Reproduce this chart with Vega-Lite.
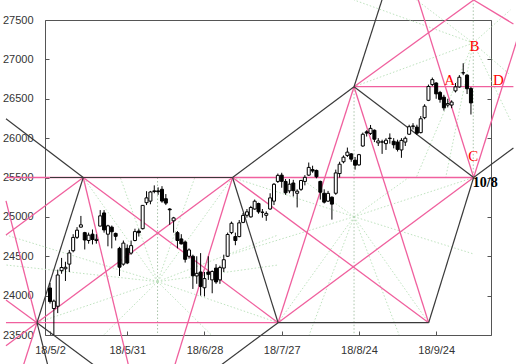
{
  "$schema": "https://vega.github.io/schema/vega-lite/v6.json",
  "width": 446,
  "height": 315,
  "autosize": {"type": "none"},
  "padding": {"left": 45, "top": 20, "right": 25, "bottom": 29},
  "background": "white",
  "config": {
    "view": {"stroke": "#555555", "strokeWidth": 1},
    "axis": {"labelFont": "Liberation Sans", "labelFontSize": 11, "labelColor": "#333333", "tickColor": "#555555", "domain": false, "grid": false, "title": null, "labelOverlap": false, "labelFlush": false}
  },
  "datasets": {
    "candles": [
      {"i":0,"o":24097,"h":24160,"l":23900,"c":23925},
      {"i":1,"o":23836,"h":23950,"l":23344,"c":23930},
      {"i":2,"o":23865,"h":24330,"l":23778,"c":24262},
      {"i":3,"o":24317,"h":24479,"l":24278,"c":24357},
      {"i":4,"o":24341,"h":24430,"l":24186,"c":24360},
      {"i":5,"o":24400,"h":24580,"l":24300,"c":24542},
      {"i":6,"o":24570,"h":24780,"l":24550,"c":24739},
      {"i":7,"o":24740,"h":24870,"l":24720,"c":24831},
      {"i":8,"o":24870,"h":25012,"l":24864,"c":24899},
      {"i":9,"o":24800,"h":24810,"l":24586,"c":24706},
      {"i":10,"o":24700,"h":24800,"l":24660,"c":24768},
      {"i":11,"o":24780,"h":24840,"l":24650,"c":24713},
      {"i":12,"o":24700,"h":24780,"l":24660,"c":24715},
      {"i":13,"o":24883,"h":25086,"l":24880,"c":25013},
      {"i":14,"o":25050,"h":25086,"l":24800,"c":24834},
      {"i":15,"o":24780,"h":24900,"l":24626,"c":24886},
      {"i":16,"o":24870,"h":24890,"l":24600,"c":24811},
      {"i":17,"o":24790,"h":24800,"l":24700,"c":24753},
      {"i":18,"o":24600,"h":24620,"l":24250,"c":24361},
      {"i":19,"o":24400,"h":24700,"l":24380,"c":24667},
      {"i":20,"o":24600,"h":24650,"l":24400,"c":24415},
      {"i":21,"o":24540,"h":24700,"l":24520,"c":24635},
      {"i":22,"o":24700,"h":24850,"l":24690,"c":24813},
      {"i":23,"o":24820,"h":24850,"l":24750,"c":24799},
      {"i":24,"o":24850,"h":25150,"l":24840,"c":25146},
      {"i":25,"o":25180,"h":25326,"l":25150,"c":25241},
      {"i":26,"o":25200,"h":25330,"l":25160,"c":25316},
      {"i":27,"o":25330,"h":25400,"l":25300,"c":25322},
      {"i":28,"o":25330,"h":25375,"l":25280,"c":25320},
      {"i":29,"o":25350,"h":25390,"l":25180,"c":25201},
      {"i":30,"o":25230,"h":25290,"l":25150,"c":25175},
      {"i":31,"o":25100,"h":25110,"l":24900,"c":25090},
      {"i":32,"o":24950,"h":25000,"l":24800,"c":24987},
      {"i":33,"o":24800,"h":24820,"l":24600,"c":24700},
      {"i":34,"o":24720,"h":24780,"l":24650,"c":24657},
      {"i":35,"o":24680,"h":24700,"l":24420,"c":24461},
      {"i":36,"o":24500,"h":24600,"l":24470,"c":24580},
      {"i":37,"o":24500,"h":24520,"l":24085,"c":24252},
      {"i":38,"o":24250,"h":24500,"l":24150,"c":24283},
      {"i":39,"o":24300,"h":24540,"l":24000,"c":24117},
      {"i":40,"o":24100,"h":24300,"l":23990,"c":24216},
      {"i":41,"o":24300,"h":24500,"l":24200,"c":24271},
      {"i":42,"o":24200,"h":24320,"l":24030,"c":24307},
      {"i":43,"o":24350,"h":24400,"l":24150,"c":24174},
      {"i":44,"o":24200,"h":24380,"l":24150,"c":24356},
      {"i":45,"o":24350,"h":24520,"l":24300,"c":24456},
      {"i":46,"o":24500,"h":24800,"l":24490,"c":24776},
      {"i":47,"o":24800,"h":24940,"l":24780,"c":24919},
      {"i":48,"o":24750,"h":24800,"l":24640,"c":24700},
      {"i":49,"o":24750,"h":24960,"l":24740,"c":24924},
      {"i":50,"o":24930,"h":25050,"l":24920,"c":25019},
      {"i":51,"o":25020,"h":25100,"l":24990,"c":25064},
      {"i":52,"o":25000,"h":25140,"l":24990,"c":25119},
      {"i":53,"o":25100,"h":25220,"l":25090,"c":25199},
      {"i":54,"o":25170,"h":25180,"l":25040,"c":25064},
      {"i":55,"o":25060,"h":25100,"l":24990,"c":25058},
      {"i":56,"o":25020,"h":25070,"l":24950,"c":25044},
      {"i":57,"o":25100,"h":25300,"l":25090,"c":25241},
      {"i":58,"o":25200,"h":25430,"l":25150,"c":25414},
      {"i":59,"o":25450,"h":25550,"l":25430,"c":25527},
      {"i":60,"o":25530,"h":25560,"l":25370,"c":25451},
      {"i":61,"o":25450,"h":25480,"l":25280,"c":25306},
      {"i":62,"o":25330,"h":25480,"l":25300,"c":25415},
      {"i":63,"o":25430,"h":25470,"l":25260,"c":25333},
      {"i":64,"o":25300,"h":25350,"l":25120,"c":25326},
      {"i":65,"o":25350,"h":25470,"l":25330,"c":25462},
      {"i":66,"o":25450,"h":25530,"l":25400,"c":25502},
      {"i":67,"o":25530,"h":25690,"l":25520,"c":25628},
      {"i":68,"o":25600,"h":25650,"l":25560,"c":25583},
      {"i":69,"o":25590,"h":25600,"l":25490,"c":25509},
      {"i":70,"o":25450,"h":25460,"l":25220,"c":25313},
      {"i":71,"o":25300,"h":25350,"l":25170,"c":25187},
      {"i":72,"o":25200,"h":25330,"l":25190,"c":25299},
      {"i":73,"o":25250,"h":25260,"l":24965,"c":25162},
      {"i":74,"o":25300,"h":25600,"l":25280,"c":25558},
      {"i":75,"o":25550,"h":25700,"l":25500,"c":25669},
      {"i":76,"o":25700,"h":25780,"l":25680,"c":25758},
      {"i":77,"o":25780,"h":25880,"l":25760,"c":25822},
      {"i":78,"o":25800,"h":25810,"l":25700,"c":25733},
      {"i":79,"o":25720,"h":25760,"l":25600,"c":25656},
      {"i":80,"o":25660,"h":25800,"l":25650,"c":25790},
      {"i":81,"o":25900,"h":26070,"l":25890,"c":26049},
      {"i":82,"o":26080,"h":26100,"l":26020,"c":26064},
      {"i":83,"o":26060,"h":26167,"l":26040,"c":26124},
      {"i":84,"o":26100,"h":26110,"l":25950,"c":25986},
      {"i":85,"o":25940,"h":26000,"l":25900,"c":25964},
      {"i":86,"o":25950,"h":25980,"l":25800,"c":25952},
      {"i":87,"o":25930,"h":26000,"l":25850,"c":25974},
      {"i":88,"o":26000,"h":26060,"l":25930,"c":25995},
      {"i":89,"o":25960,"h":26000,"l":25870,"c":25916},
      {"i":90,"o":25950,"h":25980,"l":25830,"c":25857},
      {"i":91,"o":25850,"h":26000,"l":25750,"c":25971},
      {"i":92,"o":25950,"h":26020,"l":25900,"c":25998},
      {"i":93,"o":26050,"h":26170,"l":26040,"c":26145},
      {"i":94,"o":26150,"h":26190,"l":26110,"c":26154},
      {"i":95,"o":26140,"h":26170,"l":26040,"c":26062},
      {"i":96,"o":26070,"h":26280,"l":26060,"c":26246},
      {"i":97,"o":26260,"h":26430,"l":26240,"c":26405},
      {"i":98,"o":26480,"h":26680,"l":26470,"c":26656},
      {"i":99,"o":26680,"h":26769,"l":26660,"c":26743},
      {"i":100,"o":26700,"h":26710,"l":26500,"c":26562},
      {"i":101,"o":26580,"h":26600,"l":26450,"c":26492},
      {"i":102,"o":26520,"h":26550,"l":26350,"c":26385},
      {"i":103,"o":26420,"h":26500,"l":26390,"c":26439},
      {"i":104,"o":26420,"h":26480,"l":26380,"c":26458},
      {"i":105,"o":26600,"h":26700,"l":26580,"c":26651},
      {"i":106,"o":26650,"h":26800,"l":26640,"c":26773},
      {"i":107,"o":26830,"h":26951,"l":26800,"c":26828},
      {"i":108,"o":26800,"h":26810,"l":26560,"c":26627},
      {"i":109,"o":26630,"h":26650,"l":26300,"c":26447}
    ],
    "segs": [
      {"k":"g","x1":27.85,"y1":24177,"x2":8.61,"y2":25500},
      {"k":"g","x1":27.85,"y1":24177,"x2":47.27,"y2":25500},
      {"k":"g","x1":27.85,"y1":24177,"x2":-3.37,"y2":23656},
      {"k":"g","x1":27.85,"y1":24177,"x2":59.06,"y2":23656},
      {"k":"g","x1":27.85,"y1":24177,"x2":-11.4,"y2":24770},
      {"k":"g","x1":27.85,"y1":24177,"x2":59.06,"y2":24770},
      {"k":"g","x1":27.85,"y1":24177,"x2":-11.4,"y2":24389},
      {"k":"g","x1":27.85,"y1":24177,"x2":59.06,"y2":24389},
      {"k":"g","x1":27.85,"y1":24177,"x2":18.2,"y2":25500},
      {"k":"g","x1":27.85,"y1":24177,"x2":37.5,"y2":25500},
      {"k":"g","x1":27.85,"y1":24177,"x2":13.9,"y2":23500},
      {"k":"g","x1":27.85,"y1":24177,"x2":41.8,"y2":23500},
      {"k":"g","x1":78.73,"y1":25002,"x2":47.27,"y2":25500},
      {"k":"g","x1":78.73,"y1":25002,"x2":109.7,"y2":25500},
      {"k":"g","x1":78.73,"y1":25002,"x2":59.06,"y2":23656},
      {"k":"g","x1":78.73,"y1":25002,"x2":98.05,"y2":23656},
      {"k":"g","x1":78.73,"y1":25002,"x2":47.27,"y2":24529},
      {"k":"g","x1":78.73,"y1":25002,"x2":109.7,"y2":24529},
      {"k":"g","x1":78.73,"y1":25002,"x2":64.6,"y2":25500},
      {"k":"g","x1":78.73,"y1":25002,"x2":92.9,"y2":25500},
      {"k":"g","x1":78.73,"y1":25002,"x2":67.1,"y2":23500},
      {"k":"g","x1":78.73,"y1":25002,"x2":90.4,"y2":23500},
      {"k":"g","x1":109.6,"y1":27208,"x2":78.73,"y2":26653},
      {"k":"g","x1":109.6,"y1":27208,"x2":78.73,"y2":27754},
      {"k":"g","x1":109.6,"y1":27208,"x2":94.9,"y2":27754},
      {"k":"g","x1":109.6,"y1":27208,"x2":119.2,"y2":27627},
      {"k":"g","x1":109.6,"y1":27208,"x2":119.2,"y2":26801},
      {"k":"g","x1":109.6,"y1":27208,"x2":119.2,"y2":26230},
      {"k":"g","x1":109.6,"y1":27208,"x2":94.9,"y2":25506},
      {"k":"g","x1":109.6,"y1":27208,"x2":102.5,"y2":25506},
      {"k":"v","x1":27.85,"y1":25500,"x2":27.85,"y2":23500},
      {"k":"v","x1":78.73,"y1":26653,"x2":78.73,"y2":23500},
      {"k":"v","x1":109.6,"y1":27800,"x2":109.6,"y2":25500},
      {"k":"p","x1":-11.4,"y1":25500,"x2":109.7,"y2":25500},
      {"k":"p","x1":-11.4,"y1":23656,"x2":59.06,"y2":23656},
      {"k":"p","x1":78.73,"y1":26653,"x2":120,"y2":26653},
      {"k":"p","x1":47.27,"y1":25500,"x2":-11.4,"y2":23364},
      {"k":"p","x1":8.61,"y1":25500,"x2":59.06,"y2":23656},
      {"k":"p","x1":8.61,"y1":25500,"x2":20.4,"y2":23100},
      {"k":"p","x1":47.27,"y1":25500,"x2":32.2,"y2":23100},
      {"k":"p","x1":47.27,"y1":25500,"x2":98.05,"y2":23656},
      {"k":"p","x1":59.06,"y1":23656,"x2":78.73,"y2":26653},
      {"k":"p","x1":59.06,"y1":23656,"x2":109.7,"y2":25500},
      {"k":"p","x1":78.73,"y1":26653,"x2":98.05,"y2":23656},
      {"k":"p","x1":78.73,"y1":26653,"x2":109.7,"y2":27754},
      {"k":"p","x1":95.08,"y1":27800,"x2":109.7,"y2":25500},
      {"k":"p","x1":109.7,"y1":25500,"x2":124.2,"y2":27754},
      {"k":"p","x1":109.7,"y1":27754,"x2":120,"y2":27450},
      {"k":"p","x1":-11.4,"y1":24770,"x2":8.61,"y2":25500},
      {"k":"p","x1":-11.4,"y1":23944,"x2":-3.37,"y2":23656},
      {"k":"p","x1":-11.4,"y1":25204,"x2":-3.37,"y2":23656},
      {"k":"p","x1":-3.37,"y1":23656,"x2":-6.98,"y2":23100},
      {"k":"k","x1":-11.4,"y1":26245,"x2":8.61,"y2":25500},
      {"k":"k","x1":-3.37,"y1":23656,"x2":8.61,"y2":25500},
      {"k":"k","x1":0,"y1":25500,"x2":47.27,"y2":25500},
      {"k":"k","x1":47.27,"y1":25500,"x2":59.06,"y2":23656},
      {"k":"k","x1":47.27,"y1":25500,"x2":78.73,"y2":26653},
      {"k":"k","x1":78.73,"y1":26653,"x2":86.26,"y2":27800},
      {"k":"k","x1":78.73,"y1":26653,"x2":109.7,"y2":25500},
      {"k":"k","x1":59.06,"y1":23656,"x2":98.05,"y2":23656},
      {"k":"k","x1":98.05,"y1":23656,"x2":109.7,"y2":25500},
      {"k":"k","x1":109.7,"y1":25500,"x2":120,"y2":25875},
      {"k":"k","x1":59.06,"y1":23656,"x2":43.79,"y2":23100},
      {"k":"k","x1":-3.37,"y1":23656,"x2":11.86,"y2":23100},
      {"k":"k","x1":-3.37,"y1":23656,"x2":-0.49,"y2":23100}
    ],
    "notes": [
      {"k":"r","x":103.5,"y":26744,"t":"A"},
      {"k":"r","x":109.9,"y":27166,"t":"B"},
      {"k":"r","x":109.6,"y":25770,"t":"C"},
      {"k":"r","x":116.1,"y":26734,"t":"D"},
      {"k":"b","x":112.7,"y":25430,"t":"10/8"}
    ]
  },
  "resolve": {"axis": {"y": "independent"}},
  "layer": [
    {
      "data": {"name": "segs"},
      "transform": [{"filter": "datum.k === 'g' || datum.k === 'v'"}],
      "mark": {"type": "rule", "strokeDash": [1.5, 2], "strokeWidth": 1},
      "encoding": {
        "x": {"field": "x1", "type": "quantitative", "scale": {"domain": [0, 112.9], "nice": false, "zero": false},
              "axis": {"values": [0, 20, 40, 60, 80, 100], "labelExpr": "['18/5/2','18/5/31','18/6/28','18/7/27','18/8/24','18/9/24'][round(datum.value/20)]", "tickSize": -4, "labelPadding": 13}},
        "y": {"field": "y1", "type": "quantitative", "scale": {"domain": [23500, 27500], "nice": false, "zero": false},
              "axis": {"values": [23500, 24000, 24500, 25000, 25500, 26000, 26500, 27000, 27500], "format": "d", "tickSize": -4, "labelPadding": 16}},
        "x2": {"field": "x2"},
        "y2": {"field": "y2"},
        "color": {"field": "k", "type": "nominal", "scale": {"domain": ["g", "v"], "range": ["#bfe3bf", "#a9c4a9"]}, "legend": null}
      }
    },
    {
      "data": {"name": "segs"},
      "transform": [{"filter": "datum.k === 'p'"}],
      "mark": {"type": "rule", "color": "#f0609e", "strokeWidth": 1.3},
      "encoding": {
        "x": {"field": "x1", "type": "quantitative", "scale": {"domain": [0, 112.9], "nice": false, "zero": false}},
        "y": {"field": "y1", "type": "quantitative", "scale": {"domain": [23500, 27500], "nice": false, "zero": false}, "axis": null},
        "x2": {"field": "x2"},
        "y2": {"field": "y2"}
      }
    },
    {
      "data": {"name": "segs"},
      "transform": [{"filter": "datum.k === 'k'"}],
      "mark": {"type": "rule", "color": "#3a3a3a", "strokeWidth": 1.2},
      "encoding": {
        "x": {"field": "x1", "type": "quantitative", "scale": {"domain": [0, 112.9], "nice": false, "zero": false}},
        "y": {"field": "y1", "type": "quantitative", "scale": {"domain": [23500, 27500], "nice": false, "zero": false}, "axis": null},
        "x2": {"field": "x2"},
        "y2": {"field": "y2"}
      }
    },
    {
      "data": {"name": "candles"},
      "mark": {"type": "rule", "color": "#000000", "strokeWidth": 1, "clip": true},
      "encoding": {
        "x": {"field": "i", "type": "quantitative", "scale": {"domain": [0, 112.9], "nice": false, "zero": false}},
        "y": {"field": "l", "type": "quantitative", "scale": {"domain": [23500, 27500], "nice": false, "zero": false}, "axis": null},
        "y2": {"field": "h"}
      }
    },
    {
      "data": {"name": "candles"},
      "mark": {"type": "bar", "size": 3, "stroke": "#000000", "strokeWidth": 1, "clip": true},
      "encoding": {
        "x": {"field": "i", "type": "quantitative", "scale": {"domain": [0, 112.9], "nice": false, "zero": false}},
        "y": {"field": "o", "type": "quantitative", "scale": {"domain": [23500, 27500], "nice": false, "zero": false}, "axis": null},
        "y2": {"field": "c"},
        "fill": {"condition": {"test": "datum.c >= datum.o", "value": "#ffffff"}, "value": "#000000"}
      }
    },
    {
      "data": {"name": "notes"},
      "transform": [{"filter": "datum.k === 'r'"}],
      "mark": {"type": "text", "font": "Liberation Serif", "fontSize": 15, "color": "#ff0000", "align": "center", "baseline": "middle"},
      "encoding": {
        "x": {"field": "x", "type": "quantitative", "scale": {"domain": [0, 112.9], "nice": false, "zero": false}},
        "y": {"field": "y", "type": "quantitative", "scale": {"domain": [23500, 27500], "nice": false, "zero": false},
              "axis": {"orient": "right", "labels": false, "values": [23500, 24000, 24500, 25000, 25500, 26000, 26500, 27000, 27500], "tickSize": -4}},
        "text": {"field": "t"}
      }
    },
    {
      "data": {"name": "notes"},
      "transform": [{"filter": "datum.k === 'b'"}],
      "mark": {"type": "text", "font": "Liberation Serif", "fontSize": 14, "fontWeight": "bold", "color": "#000000", "align": "center", "baseline": "middle"},
      "encoding": {
        "x": {"field": "x", "type": "quantitative", "scale": {"domain": [0, 112.9], "nice": false, "zero": false}},
        "y": {"field": "y", "type": "quantitative", "scale": {"domain": [23500, 27500], "nice": false, "zero": false}, "axis": null},
        "text": {"field": "t"}
      }
    }
  ]
}
